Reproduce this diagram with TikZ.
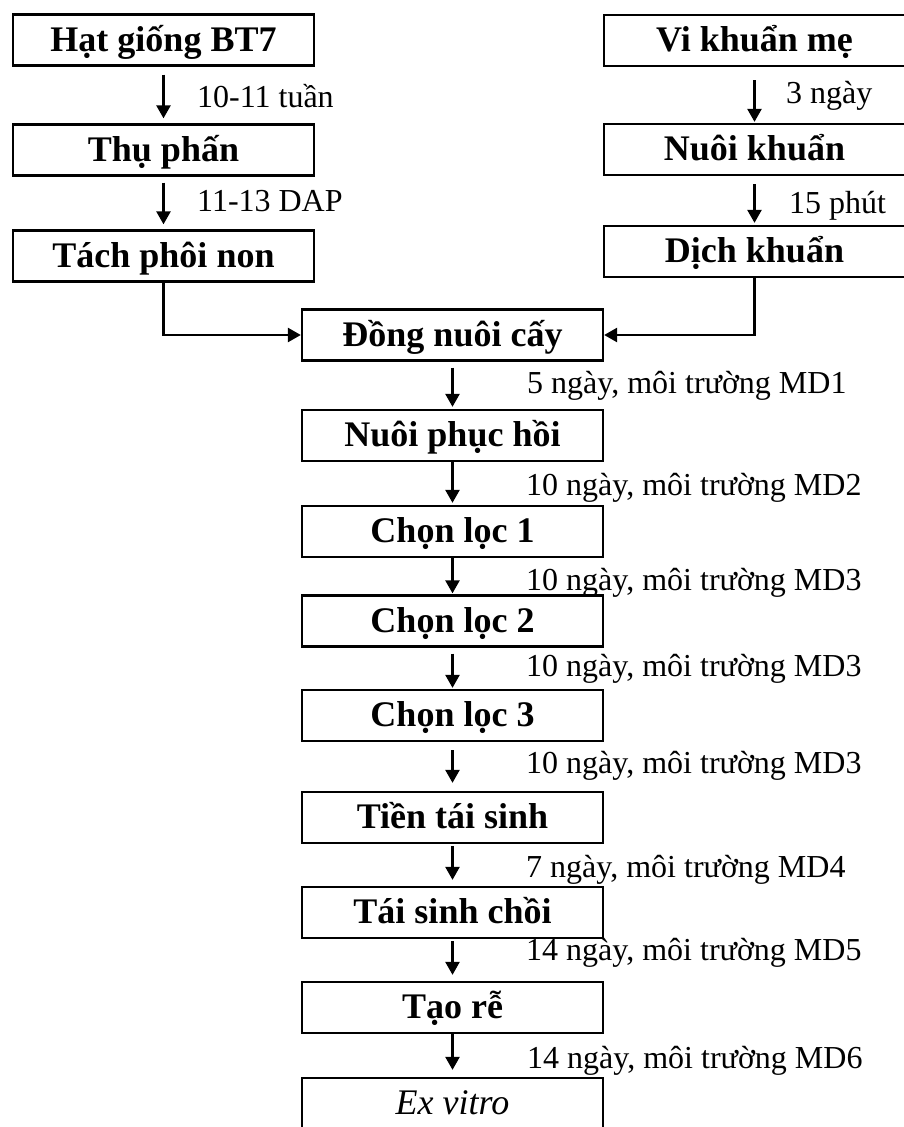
\documentclass[tikz,border=0pt]{standalone}
\usepackage{fontspec}
\setmainfont{Liberation Serif}
\usetikzlibrary{arrows.meta}
\begin{document}
\begin{tikzpicture}[x=1pt,y=-1pt,
  box/.style={draw, line width=2.3pt, minimum width=301pt, minimum height=51pt,
    inner sep=0pt, font=\fontsize{36}{40}\selectfont\bfseries,
    text height=27pt, text depth=5pt},
  arr/.style={line width=2.5pt, -{Triangle[width=14pt,length=13pt]}},
  lbl/.style={anchor=base west, inner sep=0pt, font=\fontsize{32}{36}\selectfont}]
\useasboundingbox (0,0) rectangle (904,1127);
% left column
\node[box] (hat) at (163.5,40) {Hạt giống BT7};
\node[box] (thu) at (163.5,150) {Thụ phấn};
\node[box] (tach) at (163.5,256) {Tách phôi non};
% right column
\node[box] (vi) at (754.5,40.5) {Vi khuẩn mẹ};
\node[box] (nuoik) at (754.5,149.5) {Nuôi khuẩn};
\node[box] (dich) at (754.5,251.5) {Dịch khuẩn};
% main column
\node[box] (dong) at (452.5,335) {Đồng nuôi cấy};
\node[box] (phuc) at (452.5,435.5) {Nuôi phục hồi};
\node[box] (c1) at (452.5,531.5) {Chọn lọc 1};
\node[box] (c2) at (452.5,621) {Chọn lọc 2};
\node[box] (c3) at (452.5,715.5) {Chọn lọc 3};
\node[box] (tien) at (452.5,817.5) {Tiền tái sinh};
\node[box] (choi) at (452.5,912.5) {Tái sinh chồi};
\node[box] (re) at (452.5,1007.5) {Tạo rễ};
\node[box] (ex) at (452.5,1103.5) {\mdseries\itshape Ex vitro};
% arrows left / right
\draw[arr, shorten <=8pt, shorten >=5pt] (hat.south) -- (thu.north);
\draw[arr, shorten <=6pt, shorten >=5pt] (thu.south) -- (tach.north);
\draw[arr, shorten <=13pt, shorten >=1pt] (vi.south) -- (nuoik.north);
\draw[arr, shorten <=8pt, shorten >=2pt] (nuoik.south) -- (dich.north);
\draw[arr] (tach.south) |- (dong.west);
\draw[arr] (dich.south) |- (dong.east);
% main arrows
\draw[arr, shorten <=6pt, shorten >=2pt] (dong.south) -- (phuc.north);
\draw[arr, shorten >=2pt] (phuc.south) -- (c1.north);
\draw[arr, shorten >=1pt] (c1.south) -- (c2.north);
\draw[arr, shorten <=6pt, shorten >=1pt] (c2.south) -- (c3.north);
\draw[arr, shorten <=8pt, shorten >=8pt] (c3.south) -- (tien.north);
\draw[arr, shorten <=2pt, shorten >=6pt] (tien.south) -- (choi.north);
\draw[arr, shorten <=2pt, shorten >=6pt] (choi.south) -- (re.north);
\draw[arr, shorten >=7pt] (re.south) -- (ex.north);
% labels
\node[lbl] (l1) at (197,107) {10-11 tuần};
\node[lbl] (l2) at (197,211) {11-13 DAP};
\node[lbl] (l3) at (786,103) {3 ngày};
\node[lbl] (l4) at (789,213) {15 phút};
\node[lbl] (m1) at (527,393) {5 ngày, môi trường MD1};
\node[lbl] (m2) at (526,495) {10 ngày, môi trường MD2};
\node[lbl] (m3) at (526,590) {10 ngày, môi trường MD3};
\node[lbl] (m4) at (526,676) {10 ngày, môi trường MD3};
\node[lbl] (m5) at (526,773) {10 ngày, môi trường MD3};
\node[lbl] (m6) at (526,877) {7 ngày, môi trường MD4};
\node[lbl] (m7) at (526,960) {14 ngày, môi trường MD5};
\node[lbl] (m8) at (527,1068) {14 ngày, môi trường MD6};
\end{tikzpicture}
\end{document}
